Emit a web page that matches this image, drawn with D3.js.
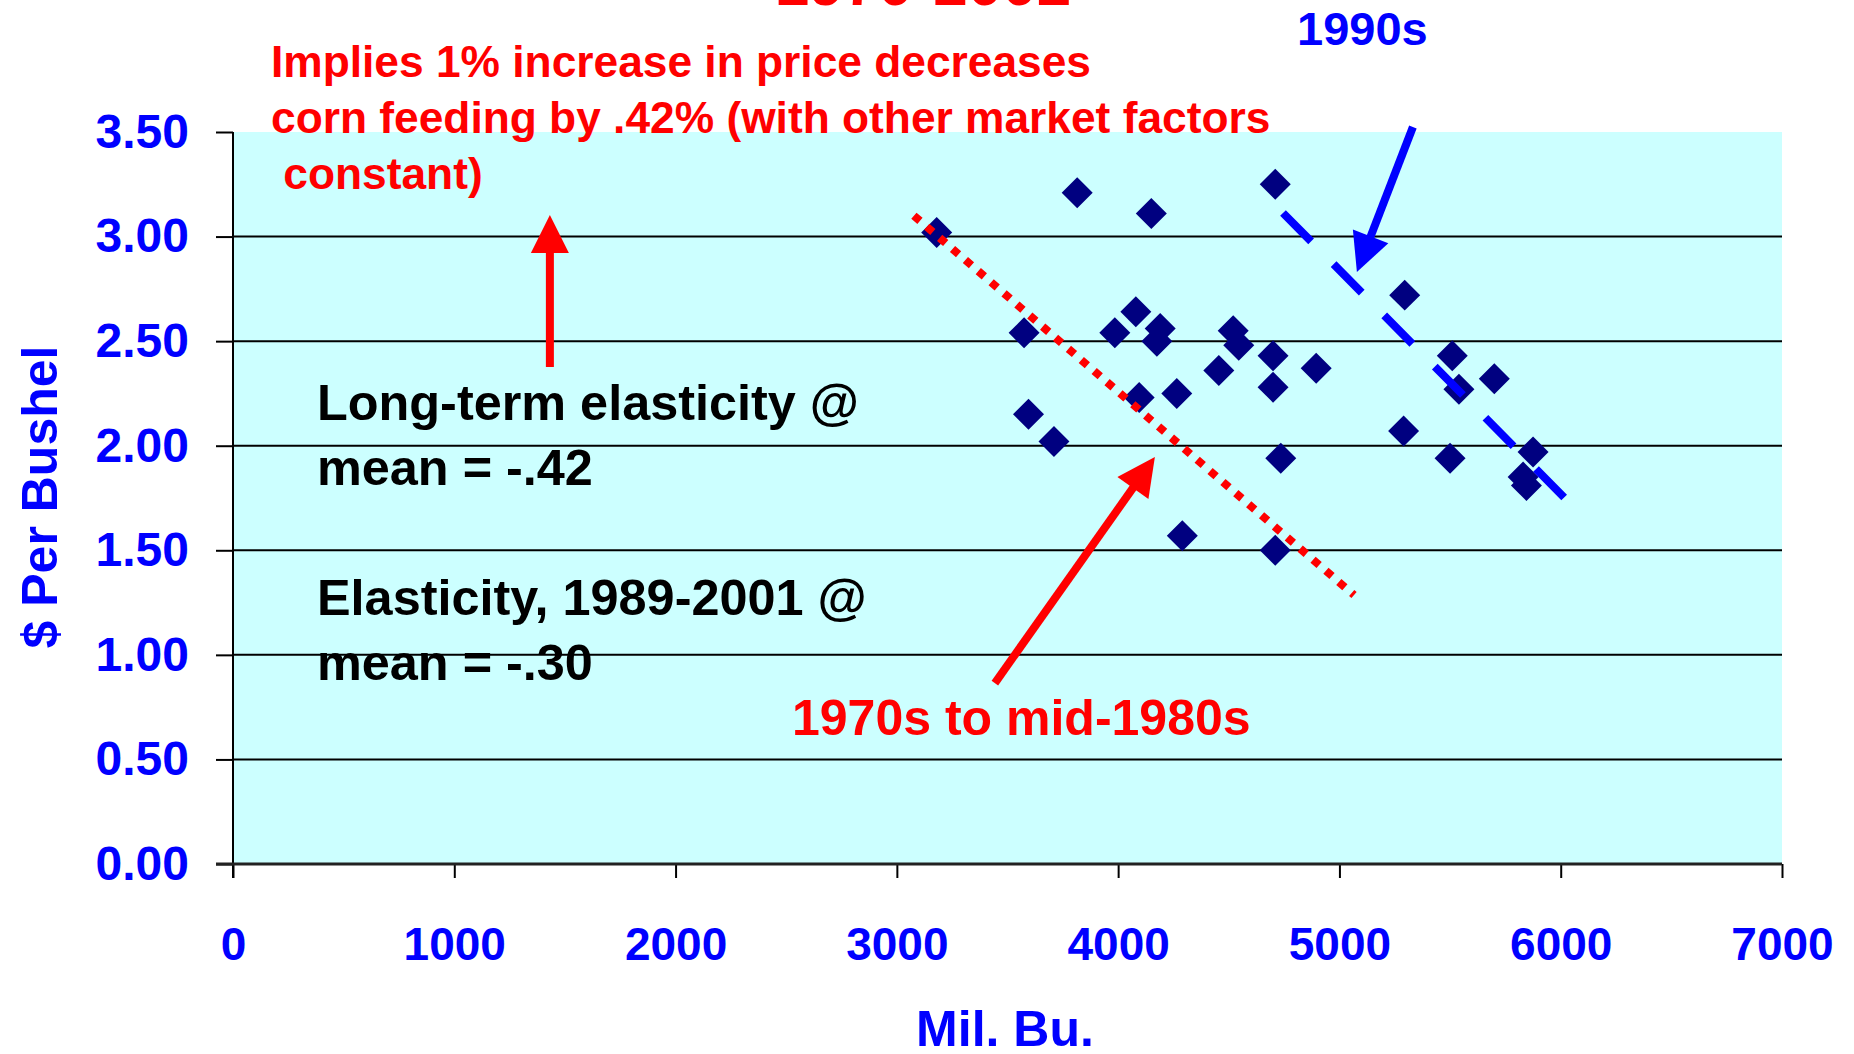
<!DOCTYPE html>
<html><head><meta charset="utf-8">
<script src="https://cdn.jsdelivr.net/npm/d3@7"></script>
<style>
body{margin:0;background:#fff;overflow:hidden}
svg{display:block}
text{font-family:Arial,"Liberation Sans",sans-serif;font-weight:bold}
</style>
</head><body><svg id="c" width="1854" height="1054"></svg>
<script>
// ---- data ----
const feedUse = [3180, 3815, 4150, 4710, 3575, 3595, 3710, 3985, 4080, 4190, 4175, 4095, 4265, 4290, 4455, 4520, 4545, 4700, 4700, 4735, 4895, 4710, 5295, 5290, 5510, 5540, 5700, 5500, 5875, 5830, 5845];
const cornPrice = [3.02, 3.21, 3.11, 3.25, 2.54, 2.15, 2.02, 2.54, 2.64, 2.56, 2.50, 2.23, 2.25, 1.57, 2.36, 2.55, 2.48, 2.43, 2.28, 1.94, 2.37, 1.50, 2.72, 2.07, 2.43, 2.27, 2.32, 1.94, 1.97, 1.85, 1.81];
const xTicks = [0, 1000, 2000, 3000, 4000, 5000, 6000, 7000];
const yTicks = [0, 0.5, 1.0, 1.5, 2.0, 2.5, 3.0, 3.5];
const gridValues = [0.5, 1.0, 1.5, 2.0, 2.5, 3.0];
// trend lines (endpoints in data units)
const trend70sX = [3077, 5066];
const trend70sY = [3.10, 1.286];
const trend90sX = [4745, 6060];
const trend90sY = [3.113, 1.705];
// annotation arrows (tail -> tip, data units)
const arrowUpX = [1432, 1432];
const arrowUpY = [2.376, 3.103];
const arrow90sX = [5332, 5079];
const arrow90sY = [3.524, 2.831];
const arrow70sX = [3443, 4166];
const arrow70sY = [0.865, 1.946];
// texts
const noteRed = ["Implies 1% increase in price decreases", "corn feeding by .42% (with other market factors", " constant)"];
const noteBlack1 = ["Long-term elasticity @", "mean = -.42"];
const noteBlack2 = ["Elasticity, 1989-2001 @", "mean = -.30"];

// ---- chart ----
const svg = d3.select("#c");
const L = 233, R = 1782, T = 132, B = 864;
const x = d3.scaleLinear().domain([0, 7000]).range([L, R]);
const y = d3.scaleLinear().domain([0, 3.5]).range([B, T]);

svg.append("rect").attr("x", L).attr("y", T).attr("width", R - L).attr("height", B - T).attr("fill", "#CCFFFF");

// gridlines
svg.append("g").selectAll("line").data(gridValues).join("line")
  .attr("x1", L).attr("x2", R).attr("y1", d => y(d)).attr("y2", d => y(d))
  .attr("stroke", "#000").attr("stroke-width", 2);

// y axis
const yAx = svg.append("g").attr("transform", `translate(${L},0)`)
  .call(d3.axisLeft(y).tickValues(yTicks).tickSize(17).tickPadding(27).tickFormat(d3.format(".2f")));
yAx.select(".domain").remove();
yAx.selectAll(".tick line").attr("stroke", "#000").attr("stroke-width", 2);
yAx.selectAll(".tick text").attr("fill", "#0000FF").attr("font-size", 48)
  .attr("font-family", "Arial, 'Liberation Sans', sans-serif").attr("font-weight", "bold");
svg.append("line").attr("x1", L).attr("x2", L).attr("y1", T).attr("y2", B + 14).attr("stroke", "#000").attr("stroke-width", 2);

// x axis
const xAx = svg.append("g").attr("transform", `translate(0,${B})`)
  .call(d3.axisBottom(x).tickValues(xTicks).tickSize(14).tickPadding(49).tickFormat(d3.format("d")));
xAx.select(".domain").remove();
xAx.selectAll(".tick line").attr("stroke", "#000").attr("stroke-width", 2);
xAx.selectAll(".tick text").attr("fill", "#0000FF").attr("font-size", 46)
  .attr("font-family", "Arial, 'Liberation Sans', sans-serif").attr("font-weight", "bold");
svg.append("line").attr("x1", L - 17).attr("x2", R).attr("y1", B).attr("y2", B).attr("stroke", "#222").attr("stroke-width", 3);

// axis titles
svg.append("text").attr("transform", `translate(57,497) rotate(-90)`)
  .attr("text-anchor", "middle").attr("font-size", 50).attr("fill", "#0000FF").text("$ Per Bushel");
svg.append("text").attr("x", 1005).attr("y", 1046).attr("text-anchor", "middle")
  .attr("font-size", 50).attr("fill", "#0000FF").text("Mil. Bu.");

// points
const pts = feedUse.map((v, i) => [v, cornPrice[i]]);
svg.append("g").selectAll("path").data(pts).join("path")
  .attr("d", d3.symbol(d3.symbolSquare, 480))
  .attr("transform", d => `translate(${x(d[0])},${y(d[1])}) rotate(45)`)
  .attr("fill", "#000080");

// trend lines
const line = d3.line().x(d => x(d[0])).y(d => y(d[1]));
svg.append("path").datum(trend70sX.map((v, i) => [v, trend70sY[i]])).attr("d", line)
  .attr("stroke", "#FF0000").attr("stroke-width", 8).attr("stroke-dasharray", "8 9").attr("fill", "none");
svg.append("path").datum(trend90sX.map((v, i) => [v, trend90sY[i]])).attr("d", line)
  .attr("stroke", "#0000FF").attr("stroke-width", 8).attr("stroke-dasharray", "40 32").attr("fill", "none");

// arrows
function arrow(xs, ys, color) {
  const x0 = x(xs[0]), y0 = y(ys[0]), x1 = x(xs[1]), y1 = y(ys[1]);
  const dx = x1 - x0, dy = y1 - y0, len = Math.hypot(dx, dy);
  const ux = dx / len, uy = dy / len, hl = 38, hw = 19;
  const bx = x1 - ux * hl, by = y1 - uy * hl;
  svg.append("line").attr("x1", x0).attr("y1", y0).attr("x2", bx + ux * 2).attr("y2", by + uy * 2)
    .attr("stroke", color).attr("stroke-width", 8);
  svg.append("path").attr("d", `M${x1},${y1}L${bx - uy * hw},${by + ux * hw}L${bx + uy * hw},${by - ux * hw}Z`)
    .attr("fill", color);
}
arrow(arrowUpX, arrowUpY, "#FF0000");
arrow(arrow90sX, arrow90sY, "#0000FF");
arrow(arrow70sX, arrow70sY, "#FF0000");

// title fragment (cropped at the top, as in the reference)
svg.append("text").attr("x", 923).attr("y", 5).attr("text-anchor", "middle")
  .attr("font-size", 62).attr("fill", "#FF0000").text("1970-2002");

// notes
svg.append("text").attr("x", 1297).attr("y", 45).attr("font-size", 47).attr("fill", "#0000FF").text("1990s");
svg.append("g").selectAll("text").data(noteRed).join("text")
  .attr("x", 271).attr("y", (d, i) => 77 + i * 56).attr("font-size", 44.3).attr("fill", "#FF0000")
  .attr("xml:space", "preserve").style("white-space", "pre").text(d => d);
svg.append("g").selectAll("text").data(noteBlack1).join("text")
  .attr("x", 317).attr("y", (d, i) => 420 + i * 65).attr("font-size", 50.4).attr("fill", "#000").text(d => d);
svg.append("g").selectAll("text").data(noteBlack2).join("text")
  .attr("x", 317).attr("y", (d, i) => 615 + i * 65).attr("font-size", 50.4).attr("fill", "#000").text(d => d);
svg.append("text").attr("x", 792).attr("y", 735).attr("font-size", 50).attr("fill", "#FF0000").text("1970s to mid-1980s");
</script>
</body></html>
